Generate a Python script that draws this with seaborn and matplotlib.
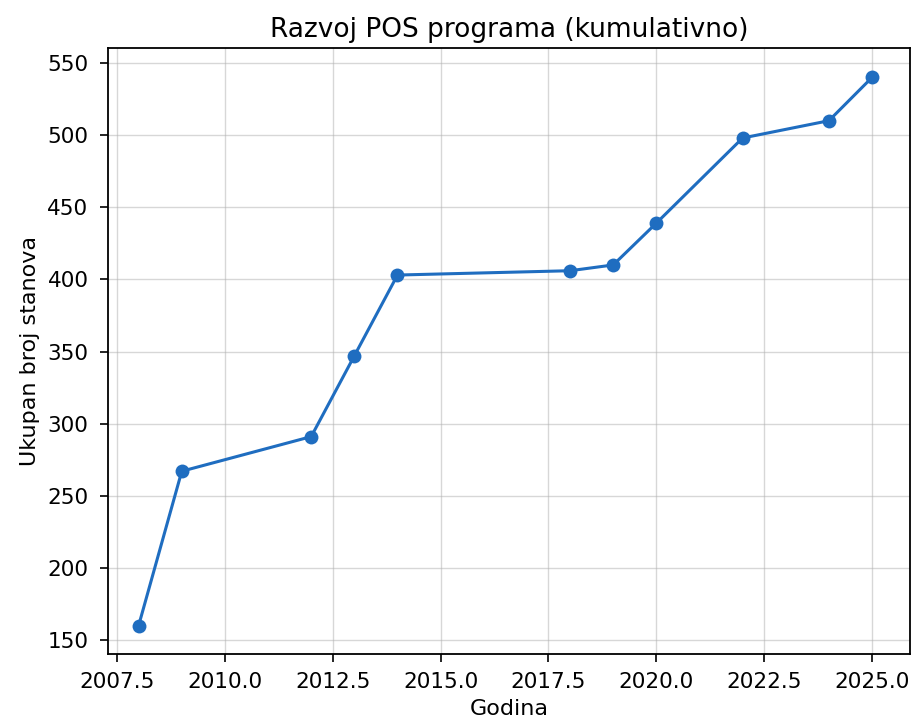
import matplotlib
matplotlib.use("Agg")
import matplotlib.pyplot as plt
import seaborn as sns
import pandas as pd

years = [2008, 2009, 2012, 2013, 2014, 2018, 2019, 2020, 2022, 2024, 2025]
totals = [160, 267, 291, 347, 403, 406, 410, 439, 498, 510, 540]

title = "Razvoj POS programa (kumulativno)"
xlabel = "Godina"
ylabel = "Ukupan broj stanova"
xtick_vals = [2007.5, 2010, 2012.5, 2015, 2017.5, 2020, 2022.5, 2025]
xtick_labels = ["2007.5", "2010.0", "2012.5", "2015.0", "2017.5", "2020.0", "2022.5", "2025.0"]
ytick_vals = [150, 200, 250, 300, 350, 400, 450, 500, 550]

df = pd.DataFrame({"Godina": years, "Ukupno": totals})

sns.set_style("ticks")
plt.rcParams.update({
    "font.family": ["DejaVu Sans"],
    "text.color": "black",
    "axes.labelcolor": "black",
    "xtick.color": "black",
    "ytick.color": "black",
    "xtick.labelsize": 15.5,
    "ytick.labelsize": 15.5,
    "xtick.major.pad": 7,
    "ytick.major.pad": 8,
    "xtick.major.size": 6,
    "ytick.major.size": 6,
    "xtick.major.width": 1.2,
    "ytick.major.width": 1.2,
})

fig = plt.figure(figsize=(9.14, 7.22), dpi=100)
ax = fig.add_axes([108 / 914, 1 - 654 / 722, (910 - 108) / 914, (654 - 48) / 722])

sns.lineplot(data=df, x="Godina", y="Ukupno", ax=ax, color="#1f6dc0",
             marker="o", markersize=10, linewidth=2.2, markeredgewidth=0)

ax.set_xlim(2007.29, 2025.88)
ax.set_ylim(140.3, 560.4)
ax.set_xticks(xtick_vals)
ax.set_xticklabels(xtick_labels)
ax.set_yticks(ytick_vals)
ax.set_yticklabels([str(v) for v in ytick_vals])
ax.grid(True, color="#b0b0b0", alpha=0.5, linewidth=1)
for s in ax.spines.values():
    s.set_visible(True)
    s.set_color("black")
    s.set_linewidth(1.3)
ax.set_title(title, fontsize=19, pad=8, color="black")
ax.set_xlabel(xlabel, fontsize=16, labelpad=5, color="black")
ax.set_ylabel(ylabel, fontsize=16, labelpad=5, color="black")

fig.savefig("out.png", dpi=100, facecolor="white")
